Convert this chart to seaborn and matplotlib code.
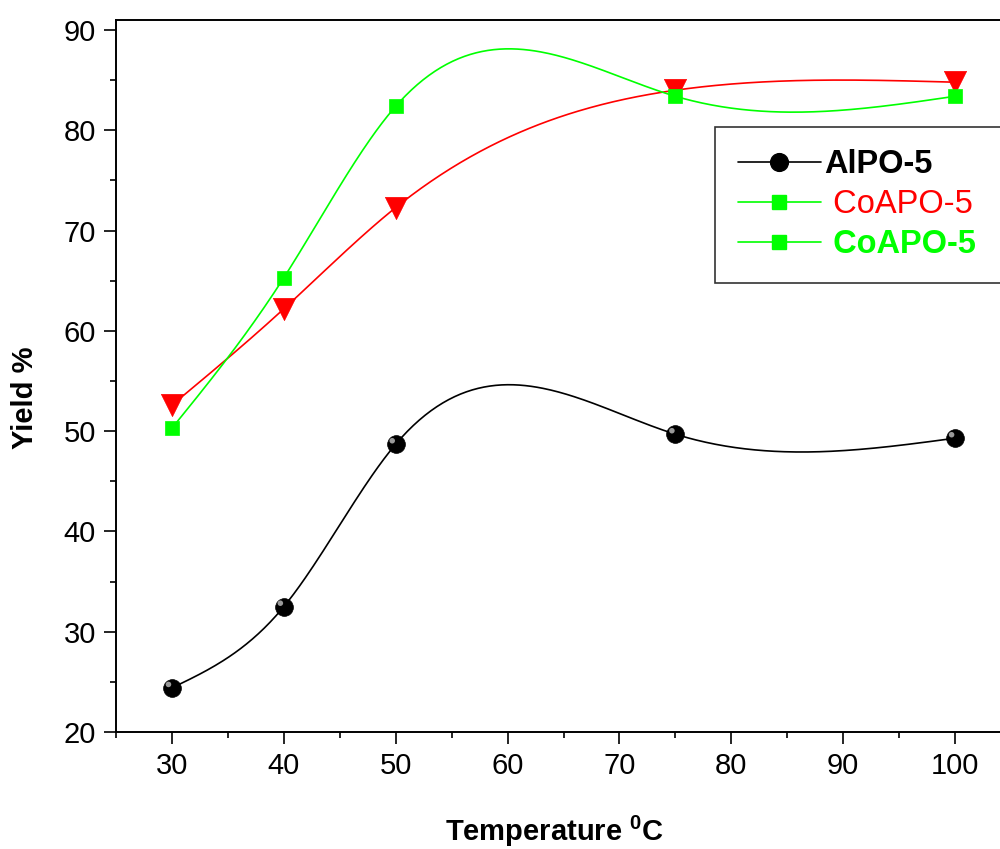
import numpy as np
import pandas as pd
import matplotlib
matplotlib.use("Agg")
import matplotlib.pyplot as plt
from matplotlib.lines import Line2D
from matplotlib.transforms import offset_copy
import seaborn as sns

# ---- data ----
temperature = [30, 40, 50, 75, 100]
alpo5 = [24.4, 32.5, 48.7, 49.7, 49.3]
coapo5_red = [52.6, 62.2, 72.3, 84.0, 84.8]
coapo5_green = [50.3, 65.3, 82.4, 83.4, 83.4]
series_labels = ["AlPO-5", "CoAPO-5", "CoAPO-5"]
xticks = [30, 40, 50, 60, 70, 80, 90, 100]
yticks = [20, 30, 40, 50, 60, 70, 80, 90]


def natural_spline(x, y, xs):
    x = np.asarray(x, float)
    y = np.asarray(y, float)
    n = len(x)
    h = np.diff(x)
    A = np.zeros((n, n))
    b = np.zeros(n)
    A[0, 0] = 1
    A[-1, -1] = 1
    for i in range(1, n - 1):
        A[i, i - 1] = h[i - 1]
        A[i, i] = 2 * (h[i - 1] + h[i])
        A[i, i + 1] = h[i]
        b[i] = 6 * ((y[i + 1] - y[i]) / h[i] - (y[i] - y[i - 1]) / h[i - 1])
    M = np.linalg.solve(A, b)
    out = np.empty_like(xs)
    for k, xv in enumerate(xs):
        i = min(max(np.searchsorted(x, xv) - 1, 0), n - 2)
        t1 = x[i + 1] - xv
        t0 = xv - x[i]
        out[k] = (M[i] * t1 ** 3 + M[i + 1] * t0 ** 3) / (6 * h[i]) \
            + (y[i] / h[i] - M[i] * h[i] / 6) * t1 \
            + (y[i + 1] / h[i] - M[i + 1] * h[i] / 6) * t0
    return out


sns.set_theme(style="white")
plt.rcParams["font.family"] = ["Liberation Sans", "DejaVu Sans"]
plt.rcParams["mathtext.fontset"] = "custom"
plt.rcParams["mathtext.rm"] = "Liberation Sans"
plt.rcParams["mathtext.bf"] = "Liberation Sans:bold"
plt.rcParams["text.color"] = "black"
plt.rcParams["axes.labelcolor"] = "black"

fig = plt.figure(figsize=(10, 8.49), dpi=100)
ax = fig.add_axes([0.116, 0.1378, 0.895, 0.8386])

BLACK = "#000000"
RED = "#FF0000"
GREEN = "#00FF00"

xs = np.linspace(30, 100, 400)
curves = [(alpo5, BLACK), (coapo5_red, RED), (coapo5_green, GREEN)]
for vals, col in curves:
    df_c = pd.DataFrame({"x": xs, "y": natural_spline(temperature, vals, xs)})
    sns.lineplot(data=df_c, x="x", y="y", color=col, lw=1.2, ax=ax, zorder=2)

# markers
df = pd.DataFrame({"T": temperature, "a": alpo5, "r": coapo5_red, "g": coapo5_green})
sns.scatterplot(data=df, x="T", y="a", marker="o", s=12.8 ** 2, color=BLACK,
                edgecolor=BLACK, linewidth=0.5, ax=ax, zorder=3)
hl = offset_copy(ax.transData, fig=fig, x=-2.5, y=2.5, units="points")
ax.scatter(df["T"], df["a"], marker="o", s=4.0 ** 2, color="#9a9a9a",
           edgecolors="none", transform=hl, zorder=4)
sns.scatterplot(data=df, x="T", y="r", marker="v", s=16 ** 2, color=RED,
                edgecolor=RED, linewidth=0.5, ax=ax, zorder=5)
sns.scatterplot(data=df, x="T", y="g", marker="s", s=10.5 ** 2, color=GREEN,
                edgecolor=GREEN, linewidth=0.5, ax=ax, zorder=6)

ax.set_xlim(25, 105)
ax.set_ylim(20, 91)
ax.set_xticks(xticks)
ax.set_yticks(yticks)
ax.set_xticks(np.arange(25, 106, 5), minor=True)
ax.set_yticks(np.arange(20, 91, 5), minor=True)
ax.tick_params(axis="both", which="major", direction="out", length=8.5, width=1.2,
               labelsize=21, color="black", labelcolor="black", pad=6,
               bottom=True, left=True)
ax.tick_params(axis="both", which="minor", direction="out", length=4.5, width=1.2,
               color="black", bottom=True, left=True)
for sp in ax.spines.values():
    sp.set_color("black")
    sp.set_linewidth(1.4)

ax.set_xlabel(r"Temperature $^{\mathbf{0}}$C", fontsize=21, fontweight="bold",
              color="black")
ax.set_ylabel("Yield %", fontsize=21, fontweight="bold", color="black")
ax.xaxis.set_label_coords(0.49, -0.115)
ax.yaxis.set_label_coords(-0.086, 0.469)

handles = [
    Line2D([], [], color=BLACK, lw=1.2, marker="o", markersize=12.8),
    Line2D([], [], color=GREEN, lw=1.2, marker="s", markersize=10.5),
    Line2D([], [], color=GREEN, lw=1.2, marker="s", markersize=10.5),
]
leg_labels = [series_labels[0]] + [" " + s for s in series_labels[1:]]
leg = fig.legend(handles, leg_labels, loc="upper left",
                 bbox_to_anchor=(0.715, 0.667, 0.33, 0.184), mode="expand",
                 fontsize=23.5, frameon=True,
                 fancybox=False, edgecolor="black", handlelength=2.55,
                 labelspacing=0.27, borderpad=0.7, handletextpad=0.1,
                 borderaxespad=0)
leg.get_frame().set_linewidth(1.2)
texts = leg.get_texts()
texts[0].set_color(BLACK)
texts[0].set_fontweight("bold")
texts[1].set_color(RED)
texts[2].set_color(GREEN)
texts[2].set_fontweight("bold")

fig.savefig("out.png", dpi=100)
